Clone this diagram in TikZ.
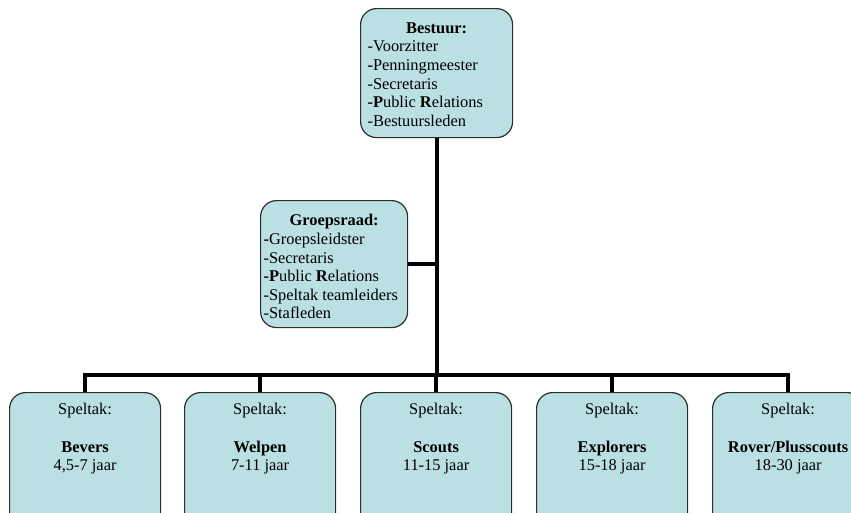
\documentclass[tikz,border=0pt]{standalone}
\usepackage{fontspec}
\setmainfont{Liberation Serif}
\definecolor{boxfill}{RGB}{186,224,228}
\definecolor{boxline}{RGB}{45,45,45}
\tikzset{
  box/.style={draw=boxline,fill=boxfill,line width=1.2pt,rounded corners=16pt,
    inner ysep=0pt,anchor=north west,font=\fontsize{16.4}{18.6}\selectfont},
  tak/.style={box,inner xsep=0pt},
  conn/.style={line width=4pt}
}
\begin{document}
\begin{tikzpicture}[x=1pt,y=-1pt]
\useasboundingbox (0,0) rectangle (851,512);
\clip (0,0) rectangle (851,512);
% lines
\coordinate (bar) at (436,375);
% boxes
\node[box,inner xsep=7pt] (bestuur) at (360,8) {\parbox[t][129pt][t]{138pt}{\vspace*{14pt}\makebox[\linewidth]{\textbf{Bestuur:}}\\-Voorzitter\\\textbf{-}Penningmeester\\-Secretaris\\\textbf{-P}ublic \textbf{R}elations\\-Bestuursleden}};
\node[box,inner xsep=3pt] (groepsraad) at (260,200) {\parbox[t][127pt][t]{141pt}{\vspace*{14pt}\makebox[\linewidth]{\textbf{Groepsraad:}}\\\textbf{-}Groepsleidster\\-Secretaris\\\textbf{-P}ublic \textbf{R}elations\\-Speltak teamleiders\\-Stafleden}};
\node[tak] (bevers) at (9,392) {\parbox[t][150pt][t]{151pt}{\centering\vspace*{11pt}Speltak:\\[18.6pt]\textbf{Bevers}\\4,5-7 jaar}};
\node[tak] (welpen) at (184,392) {\parbox[t][150pt][t]{151pt}{\centering\vspace*{11pt}Speltak:\\[18.6pt]\textbf{Welpen}\\7-11 jaar}};
\node[tak] (scouts) at (360,392) {\parbox[t][150pt][t]{151pt}{\centering\vspace*{11pt}Speltak:\\[18.6pt]\textbf{Scouts}\\11-15 jaar}};
\node[tak] (explorers) at (536,392) {\parbox[t][150pt][t]{151pt}{\centering\vspace*{11pt}Speltak:\\[18.6pt]\textbf{Explorers}\\15-18 jaar}};
\node[tak] (rover) at (712,392) {\parbox[t][150pt][t]{151pt}{\centering\vspace*{11pt}Speltak:\\[18.6pt]\textbf{Rover/Plusscouts}\\18-30 jaar}};
% connectors
\draw[conn] (bestuur.south) -- (bestuur.south |- bar);
\draw[conn] (groepsraad.east) -- (groepsraad.east -| bar);
\draw[conn] (bevers.north) |- (bar) -| (rover.north);
\foreach \n in {welpen,scouts,explorers}
  \draw[conn] (\n.north) -- (\n.north |- bar);
\end{tikzpicture}
\end{document}
